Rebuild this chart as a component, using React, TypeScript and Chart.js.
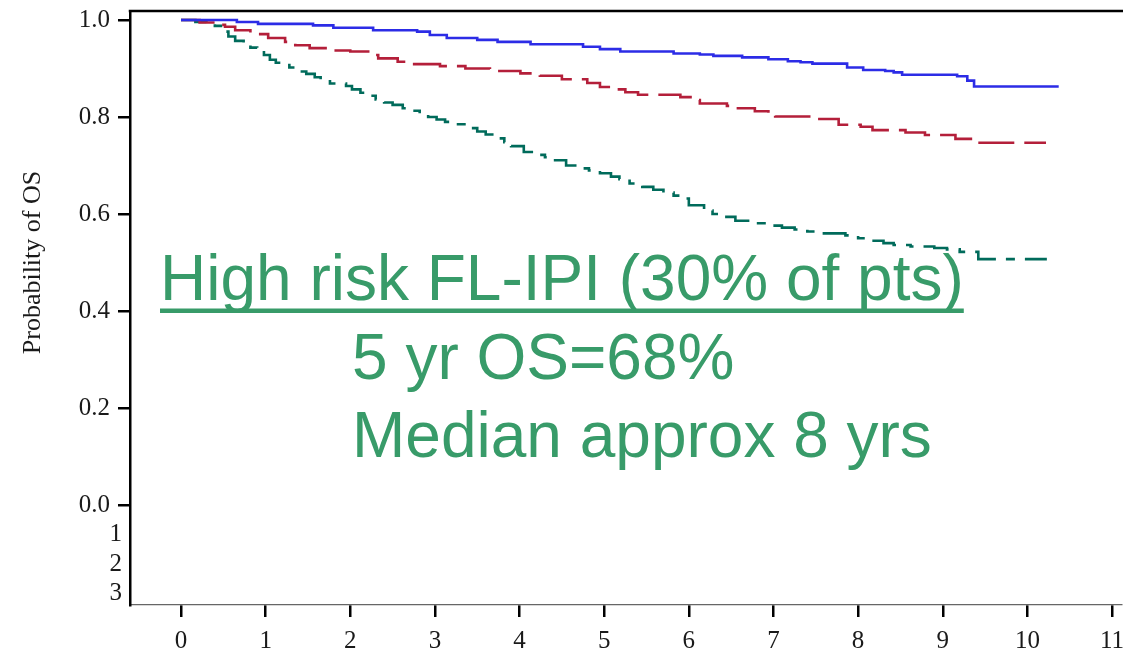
import { useEffect, useRef } from "react";
import { Chart, registerables } from "chart.js";

Chart.register(...registerables);

// ---- data ----
const xTicks = [0, 1, 2, 3, 4, 5, 6, 7, 8, 9, 10, 11];
const yTicks = [0, 0.2, 0.4, 0.6, 0.8, 1.0];
const riskRowLabels = ["1", "2", "3"];
const yTitle = "Probability of OS";
const noteLines = ["High risk FL-IPI (30% of pts)", "5 yr OS=68%", "Median approx 8 yrs"];

const lowTimes = [0, 0.66, 0.91, 1.56, 1.8, 2.27, 2.79, 2.94, 3.14, 3.5, 3.74, 4.13, 4.75, 4.95, 5.19, 5.82, 6.13, 6.29, 6.63, 6.94, 7.17, 7.32, 7.46, 7.87, 8.06, 8.32, 8.42, 8.52, 9.17, 9.29, 9.37, 10.37];
const lowSurv = [1.0, 0.996, 0.992, 0.989, 0.984, 0.979, 0.976, 0.969, 0.963, 0.959, 0.955, 0.95, 0.945, 0.94, 0.935, 0.931, 0.929, 0.926, 0.923, 0.919, 0.915, 0.913, 0.91, 0.902, 0.897, 0.895, 0.892, 0.887, 0.884, 0.875, 0.863, 0.863];

const intTimes = [0, 0.22, 0.42, 0.52, 0.64, 0.82, 1.03, 1.23, 1.35, 1.52, 1.76, 2.0, 2.23, 2.33, 2.56, 2.73, 3.06, 3.36, 3.65, 4.01, 4.24, 4.5, 4.8, 4.95, 5.07, 5.25, 5.4, 5.9, 6.02, 6.13, 6.45, 6.58, 6.78, 6.94, 7.02, 7.49, 7.77, 8.03, 8.17, 8.56, 8.79, 9.15, 9.36, 10.22];
const intSurv = [1.0, 0.995, 0.99, 0.986, 0.979, 0.971, 0.963, 0.955, 0.948, 0.942, 0.937, 0.935, 0.928, 0.921, 0.914, 0.909, 0.905, 0.9, 0.895, 0.89, 0.885, 0.878, 0.87, 0.862, 0.857, 0.851, 0.846, 0.841, 0.835, 0.828, 0.823, 0.818, 0.812, 0.804, 0.801, 0.796, 0.784, 0.78, 0.773, 0.768, 0.763, 0.755, 0.747, 0.747];

const highTimes = [0, 0.17, 0.3, 0.4, 0.5, 0.56, 0.64, 0.74, 0.82, 0.9, 0.98, 1.05, 1.12, 1.28, 1.4, 1.48, 1.58, 1.65, 1.76, 1.95, 2.02, 2.12, 2.2, 2.3, 2.4, 2.5, 2.62, 2.72, 2.82, 2.92, 3.02, 3.12, 3.24, 3.38, 3.5, 3.6, 3.72, 3.82, 3.9, 4.05, 4.18, 4.3, 4.42, 4.55, 4.68, 4.82, 4.95, 5.08, 5.18, 5.3, 5.45, 5.58, 5.7, 5.82, 5.92, 6.0, 6.18, 6.28, 6.4, 6.55, 6.7, 6.95, 7.1, 7.25, 7.4, 7.55, 7.85, 8.0, 8.15, 8.3, 8.42, 8.62, 8.9, 9.05, 9.2, 9.42, 10.23];
const highSurv = [1.0, 0.996, 0.992, 0.988, 0.976, 0.966, 0.957, 0.95, 0.943, 0.936, 0.928, 0.918, 0.912, 0.902, 0.894, 0.889, 0.882, 0.877, 0.869, 0.864, 0.857, 0.85, 0.844, 0.836, 0.83, 0.825, 0.818, 0.813, 0.806, 0.8, 0.795, 0.79, 0.785, 0.777, 0.77, 0.764, 0.756, 0.748, 0.74, 0.728, 0.722, 0.717, 0.711, 0.7, 0.694, 0.69, 0.684, 0.677, 0.672, 0.663, 0.656, 0.65, 0.644, 0.638, 0.632, 0.618, 0.607, 0.6, 0.594, 0.586, 0.581, 0.576, 0.572, 0.568, 0.564, 0.56, 0.556, 0.55, 0.545, 0.54, 0.536, 0.533, 0.53, 0.527, 0.522, 0.507, 0.507];

const toPts = (t: number[], s: number[]) => t.map((x, i) => ({ x, y: s[i] }));

const SERIF = "'Liberation Serif', 'Times New Roman', serif";
const SANS = "'Liberation Sans', Arial, sans-serif";
const TEXT_GREEN = "#389b69";
const TICK_FONT = 25;

const decorPlugin = {
  id: "decor",
  afterDraw(chart: any) {
    const { ctx, chartArea, scales } = chart;
    const ys = scales.y;
    ctx.save();
    // top frame line
    ctx.strokeStyle = "#000";
    ctx.lineWidth = 2.5;
    ctx.beginPath();
    ctx.moveTo(chartArea.left - 1.25, chartArea.top);
    ctx.lineTo(chart.width, chartArea.top);
    ctx.stroke();

    // y axis title
    ctx.save();
    ctx.translate(33, ys.getPixelForValue(0.5));
    ctx.rotate(-Math.PI / 2);
    ctx.font = `26px ${SERIF}`;
    ctx.fillStyle = "#1a1a1a";
    ctx.textAlign = "center";
    ctx.textBaseline = "middle";
    ctx.fillText(yTitle, 0, 0);
    ctx.restore();

    // number-at-risk row labels
    const rowVals = [-0.0608, -0.1227, -0.1814];
    ctx.font = `${TICK_FONT}px ${SERIF}`;
    ctx.fillStyle = "#1a1a1a";
    ctx.textAlign = "right";
    ctx.textBaseline = "middle";
    riskRowLabels.forEach((lab, i) => {
      ctx.fillText(lab, chartArea.left - 8, ys.getPixelForValue(rowVals[i]));
    });

    // annotation text
    ctx.font = `64px ${SANS}`;
    ctx.fillStyle = TEXT_GREEN;
    ctx.textAlign = "left";
    ctx.textBaseline = "alphabetic";
    ctx.fillText(noteLines[0], 160, 300);
    const w = ctx.measureText(noteLines[0]).width;
    ctx.fillRect(160, 308.5, w, 4.5);
    ctx.fillText(noteLines[1], 352, 379);
    ctx.fillText(noteLines[2], 352, 457);
    ctx.restore();
  },
};

export default function App() {
  const ref = useRef<HTMLCanvasElement | null>(null);
  useEffect(() => {
    document.body.style.margin = "0";
    const canvas = ref.current;
    if (!canvas) return;
    const common = { pointRadius: 0, borderWidth: 2.6, stepped: true as const, fill: false, borderCapStyle: "butt" as const };
    const chart = new Chart(canvas, {
      type: "line",
      data: {
        datasets: [
          { label: "Low", data: toPts(lowTimes, lowSurv), borderColor: "#2c2ce6", ...common },
          { label: "Intermediate", data: toPts(intTimes, intSurv), borderColor: "#b41f3a", borderDash: [36, 10], ...common },
          { label: "High", data: toPts(highTimes, highSurv), borderColor: "#006b5b", borderDash: [28, 10, 9, 10], ...common },
        ],
      },
      options: {
        animation: false,
        responsive: false,
        devicePixelRatio: 1,
        layout: { padding: { top: 11, right: 2, left: 0, bottom: 0 } },
        plugins: { legend: { display: false }, tooltip: { enabled: false } },
        scales: {
          x: {
            type: "linear",
            min: -0.6026,
            max: 11.106,
            afterBuildTicks: (s: any) => {
              s.ticks = xTicks.map((v) => ({ value: v }));
            },
            afterFit: (s: any) => {
              s.height = 47;
              s.paddingLeft = 0;
              s.paddingRight = 0;
            },
            ticks: {
              autoSkip: false,
              maxRotation: 0,
              padding: 9,
              color: "#1a1a1a",
              font: { family: SERIF, size: TICK_FONT },
              callback: (v: any) => String(v),
            },
            grid: { display: true, drawOnChartArea: false, drawTicks: true, tickLength: 12, tickWidth: 2.5, tickColor: "#000", lineWidth: 2.5, color: "#000" },
            border: { display: true, color: "#666", width: 1.3 },
          },
          y: {
            type: "linear",
            min: -0.2062,
            max: 1.0186,
            afterBuildTicks: (s: any) => {
              s.ticks = yTicks.map((v) => ({ value: v }));
            },
            afterFit: (s: any) => {
              s.width = 130;
              s.paddingTop = 0;
              s.paddingBottom = 0;
            },
            ticks: {
              autoSkip: false,
              padding: 8,
              color: "#1a1a1a",
              font: { family: SERIF, size: TICK_FONT },
              callback: (v: any) => Number(v).toFixed(1),
            },
            grid: { display: true, drawOnChartArea: false, drawTicks: true, tickLength: 12, tickWidth: 2.5, tickColor: "#000", lineWidth: 2.5, color: "#000" },
            border: { display: true, color: "#000", width: 2.5 },
          },
        },
      },
      plugins: [decorPlugin],
    });
    return () => chart.destroy();
  }, []);
  return (
    <div style={{ width: 1123, height: 652, background: "#fff" }}>
      <canvas ref={ref} width={1123} height={652} style={{ display: "block" }} />
    </div>
  );
}
